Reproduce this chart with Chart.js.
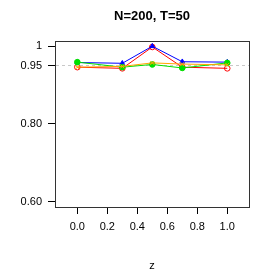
<!DOCTYPE html>
<html>
<head>
<meta charset="utf-8">
<script src="https://cdn.jsdelivr.net/npm/chart.js@4"></script>
<style>
  html, body { margin: 0; padding: 0; background: #fff; }
  #wrap { width: 277px; height: 277px; }
</style>
</head>
<body>
<div id="wrap"><canvas id="grafico" width="277" height="277"></canvas></div>
<script>
// datos
const tituloTexto = 'N=200, T=50';
const valoresZ = [0.0, 0.3, 0.5, 0.7, 1.0];
const serieAzul = [0.958, 0.956, 1.000, 0.960, 0.959];
const serieRoja = [0.946, 0.943, 0.998, 0.946, 0.943];
const serieVerde = [0.959, 0.946, 0.953, 0.944, 0.957];
const serieNaranja = [0.946, 0.948, 0.957, 0.954, 0.952];
const ticksX = [0.0, 0.2, 0.4, 0.6, 0.8, 1.0];
const ticksY = [0.60, 0.80, 0.95, 1];
const etiquetasY = ['0.60', '0.80', '0.95', '1'];
const nivelNominal = 0.95;

const fuente = "'Liberation Sans', Arial, sans-serif";
const aPuntos = arr => arr.map((y, i) => ({ x: valoresZ[i], y }));

const serie = (data, color, estilo, relleno, orden) => ({
    data: aPuntos(data), borderColor: color, borderWidth: 1,
    pointStyle: estilo, pointRadius: 2.8, pointBorderWidth: 1,
    pointBorderColor: color, pointBackgroundColor: relleno ? color : 'rgba(0,0,0,0)',
    showLine: true, order: orden
});

// titulo centrado sobre el area del grafico y marco completo
const marcoPlugin = {
    id: 'marco',
    afterDraw(chart) {
        const { ctx, chartArea: a } = chart;
        ctx.save();
        ctx.strokeStyle = '#333'; ctx.lineWidth = 1;
        ctx.strokeRect(a.left + 0.5, a.top + 0.5, a.right - a.left, a.bottom - a.top);
        ctx.fillStyle = '#000';
        ctx.font = 'bold 13px ' + fuente;
        ctx.textAlign = 'center'; ctx.textBaseline = 'middle';
        ctx.fillText(tituloTexto, (a.left + a.right) / 2, 16);
        ctx.restore();
    }
};

new Chart(document.getElementById('grafico'), {
    type: 'scatter',
    data: {
        datasets: [
            serie(serieRoja, '#ff0000', 'circle', false, 3),
            serie(serieAzul, '#0000ff', 'triangle', true, 2),
            serie(serieVerde, '#00e000', 'circle', true, 1),
            serie(serieNaranja, '#ffa500', 'crossRot', false, 0)
        ]
    },
    options: {
        responsive: false, animation: false, devicePixelRatio: 1,
        layout: { padding: { top: 41, right: 28, left: 0, bottom: 0 } },
        plugins: { legend: { display: false }, tooltip: { enabled: false } },
        scales: {
            x: {
                type: 'linear', min: -0.149, max: 1.145,
                afterBuildTicks: s => { s.ticks = ticksX.map(v => ({ value: v })); },
                afterFit: s => { s.height = 70; },
                ticks: { color: '#000', font: { family: fuente, size: 11 }, padding: 6,
                         callback: v => v.toFixed(1), maxRotation: 0 },
                grid: { drawOnChartArea: false, tickLength: 7, tickColor: '#000' },
                border: { color: '#333' },
                title: { display: true, text: 'z', color: '#000', font: { family: fuente, size: 11 },
                         padding: { top: 0, bottom: 4 } }
            },
            y: {
                type: 'linear', min: 0.586, max: 1.0134,
                afterBuildTicks: s => { s.ticks = ticksY.map(v => ({ value: v })); },
                afterFit: s => { s.width = 55; },
                ticks: { color: '#000', font: { family: fuente, size: 11 }, padding: 6,
                         callback: v => etiquetasY[ticksY.indexOf(v)] },
                grid: { drawOnChartArea: true, tickLength: 7, tickColor: '#000', lineWidth: 1,
                        color: c => (c.tick && c.tick.value === nivelNominal) ? '#c8c8c8' : 'rgba(0,0,0,0)' },
                border: { color: '#333', dash: [3, 3] }
            }
        }
    },
    plugins: [marcoPlugin]
});
</script>
</body>
</html>
